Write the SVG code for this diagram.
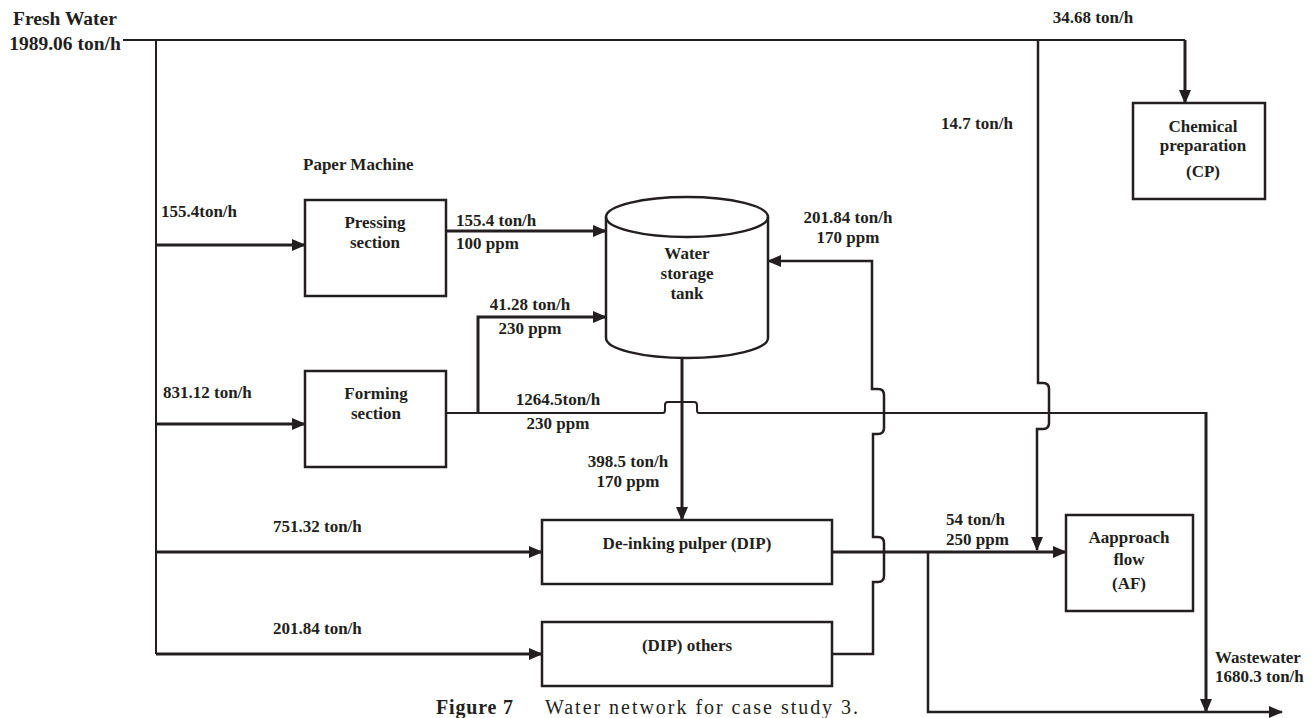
<svg xmlns="http://www.w3.org/2000/svg" width="1314" height="718" viewBox="0 0 1314 718">
<style>
text{font-family:"Liberation Serif","Times New Roman",serif;font-weight:bold;font-size:17px;fill:#231f20}
.m{text-anchor:middle}
.box{fill:none;stroke:#231f20;stroke-width:2.5}
.ln{fill:none;stroke:#231f20;stroke-width:2}
.ar{fill:none;stroke:#231f20;stroke-width:3;marker-end:url(#ah)}
.ar2{fill:none;stroke:#231f20;stroke-width:2.5;marker-end:url(#ah)}
</style>
<defs>
<marker id="ah" markerUnits="userSpaceOnUse" markerWidth="14" markerHeight="12" refX="13" refY="6" orient="auto">
<path d="M0,0 L14,6 L0,12 Z" fill="#231f20"/>
</marker>
</defs>
<rect width="1314" height="718" fill="#fff"/>

<g id="labels">
<text class="m" x="65" y="25" style="font-size:19.5px">Fresh Water</text>
<text class="m" x="65" y="50" style="font-size:19.5px">1989.06 ton/h</text>
<text class="m" x="1093" y="23">34.68 ton/h</text>
<text class="m" x="977" y="129">14.7 ton/h</text>
<text x="303" y="170">Paper Machine</text>
<text x="161" y="217">155.4ton/h</text>
<text x="456" y="226">155.4 ton/h</text>
<text x="456" y="249">100 ppm</text>
<text class="m" x="530" y="310">41.28 ton/h</text>
<text class="m" x="530" y="334">230 ppm</text>
<text class="m" x="848" y="223">201.84 ton/h</text>
<text class="m" x="848" y="243">170 ppm</text>
<text x="163" y="398">831.12 ton/h</text>
<text class="m" x="558" y="405">1264.5ton/h</text>
<text class="m" x="558" y="429">230 ppm</text>
<text class="m" x="628" y="467">398.5 ton/h</text>
<text class="m" x="628" y="487">170 ppm</text>
<text x="273" y="532">751.32 ton/h</text>
<text x="273" y="634">201.84 ton/h</text>
<text x="946" y="525">54 ton/h</text>
<text x="946" y="545">250 ppm</text>
<text x="1215" y="663">Wastewater</text>
<text x="1215" y="682">1680.3 ton/h</text>
<text x="436" y="714" textLength="77" style="font-size:20px">Figure 7</text>
<text x="545" y="714" textLength="313" style="font-size:20px;font-weight:normal">Water network for case study 3.</text>
</g>

<g id="connectors">
<path class="ln" d="M123,40 H1185"/>
<path class="ar" d="M1185,40 V103"/>
<path class="ln" d="M156,40 V654"/>
<path class="ar" d="M156,245 H305"/>
<path class="ar" d="M156,424 H305"/>
<path class="ar" d="M156,552 H542"/>
<path class="ar" d="M156,654 H542"/>
<path class="ar2" d="M1038,40 V383 h5 q6,0 6,6 V423 q0,6 -6,6 h-6 V550"/>
<path class="ar" d="M446,231 H606"/>
<path class="ln" d="M446,413 H663 q2,0 2,-3 v-5 q0,-3 3,-3 h26 q3,0 3,3 v5 q0,3 2,3 H1206"/>
<path class="ar" d="M1206,412 V712"/>
<path class="ar" d="M478,413 V317 H606"/>
<path class="ar" d="M682,357 V520"/>
<path class="ar2" d="M832,654 H873 V582 h5 q6,0 6,-6 V543 q0,-6 -6,-6 h-5 V434 h5 q6,0 6,-6 V395 q0,-6 -6,-6 h-6 V261 H768"/>
<path class="ar" d="M832,552 H1066"/>
<path class="ar2" d="M928,552 V712 H1282"/>
</g>

<g id="pressing">
<rect class="box" x="305" y="200" width="141" height="96"/>
<text class="m" x="375" y="228">Pressing</text>
<text class="m" x="375" y="248">section</text>
</g>
<g id="forming">
<rect class="box" x="305" y="371" width="141" height="96"/>
<text class="m" x="376" y="399">Forming</text>
<text class="m" x="376" y="419">section</text>
</g>
<g id="tank">
<path class="box" d="M606,217 V338 A81,20 0 0 0 768,338 V217"/>
<ellipse class="box" cx="687" cy="217" rx="81" ry="20"/>
<text class="m" x="687" y="259">Water</text>
<text class="m" x="687" y="279">storage</text>
<text class="m" x="687" y="299">tank</text>
</g>
<g id="cp">
<rect class="box" x="1133" y="103" width="132" height="96"/>
<text class="m" x="1203" y="132">Chemical</text>
<text class="m" x="1203" y="151">preparation</text>
<text class="m" x="1203" y="177">(CP)</text>
</g>
<g id="dip">
<rect class="box" x="542" y="520" width="290" height="64"/>
<text class="m" x="687" y="549">De-inking pulper (DIP)</text>
</g>
<g id="dipothers">
<rect class="box" x="542" y="622" width="290" height="64"/>
<text class="m" x="687" y="651">(DIP) others</text>
</g>
<g id="af">
<rect class="box" x="1066" y="515" width="127" height="96"/>
<text class="m" x="1129" y="543">Aapproach</text>
<text class="m" x="1129" y="565">flow</text>
<text class="m" x="1129" y="589">(AF)</text>
</g>
</svg>
